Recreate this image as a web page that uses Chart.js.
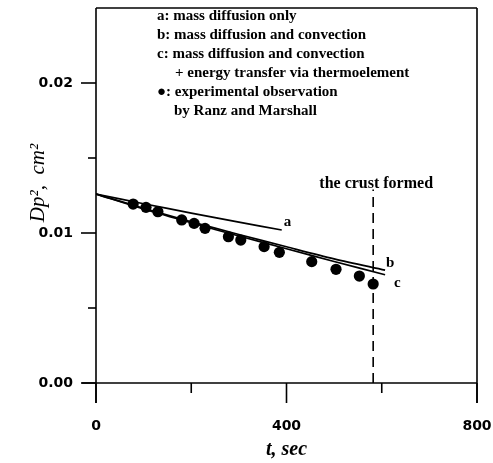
<!DOCTYPE html>
<html><head><meta charset="utf-8">
<script src="https://cdn.jsdelivr.net/npm/chart.js@4/dist/chart.umd.min.js"></script>
<style>html,body{margin:0;padding:0;background:#fff}</style>
</head><body>
<canvas id="c" width="493" height="463"></canvas>
<script>
// ---- data ----
const xTicks = [0, 400, 800];
const xMinorTicks = [200, 600];
const yTicks = [0, 0.01, 0.02];
const yMinorTicks = [0.005, 0.015];

const timeA = [0, 100, 200, 300, 390];
const seriesA = [0.0126, 0.01195, 0.01133, 0.01072, 0.01020];

const timeBC = [0, 100, 200, 300, 400, 500, 607];
const seriesB = [0.0126, 0.01165, 0.01075, 0.00990, 0.00908, 0.00828, 0.00752];
const seriesC = [0.0126, 0.01160, 0.01068, 0.00980, 0.00895, 0.00810, 0.00722];

const obsT = [78, 105, 130, 180, 206, 229, 278, 304, 353, 385, 453, 504, 553, 582];
const obsD = [0.01193, 0.01171, 0.01142, 0.01087, 0.01064, 0.01031, 0.00975, 0.00953, 0.00909, 0.00871, 0.00809, 0.00758, 0.00713, 0.00660];

const crustT = [582, 582];
const crustD = [0, 0.0129];

const legendLines = ["a: mass diffusion only", "b: mass diffusion and convection", "c: mass diffusion and convection", "+ energy transfer via thermoelement", "\u25CF: experimental observation", "by Ranz and Marshall"];
const legendIndent = [0, 0, 0, 18, 0, 17];
const crustLabel = "the crust formed";
const curveLabels = ["a", "b", "c"];
const xTitle = "t, sec";
const yTitle = "Dp\u00B2,  cm\u00B2";

const pts = (xs, ys) => xs.map((x, i) => ({x: x, y: ys[i]}));

const framePlugin = {
  id: 'frame',
  afterDraw(chart) {
    const ctx = chart.ctx, ca = chart.chartArea;
    const xs = chart.scales.x, ys = chart.scales.y;
    ctx.save();
    ctx.strokeStyle = '#000';
    ctx.lineWidth = 1.6;
    const line = (x1, y1, x2, y2) => { ctx.beginPath(); ctx.moveTo(x1, y1); ctx.lineTo(x2, y2); ctx.stroke(); };
    line(ca.left, ca.top, ca.right, ca.top);
    line(ca.left, ca.top, ca.left, ca.bottom + 20);
    line(ca.right, ca.top, ca.right, ca.bottom + 20);
    line(ca.left - 14, ca.bottom, ca.right, ca.bottom);
    yTicks.forEach(v => { const y = ys.getPixelForValue(v); line(ca.left - 15, y, ca.left, y); });
    yMinorTicks.forEach(v => { const y = ys.getPixelForValue(v); line(ca.left - 8, y, ca.left, y); });
    xTicks.forEach(v => { const x = xs.getPixelForValue(v); line(x, ca.bottom, x, ca.bottom + 20); });
    xMinorTicks.forEach(v => { const x = xs.getPixelForValue(v); line(x, ca.bottom, x, ca.bottom + 10); });

    ctx.fillStyle = '#000';
    // y axis title
    ctx.save();
    ctx.translate(38, 183);
    ctx.rotate(-Math.PI / 2);
    ctx.font = 'italic 21px "Liberation Serif", serif';
    ctx.textAlign = 'center';
    ctx.textBaseline = 'middle';
    ctx.fillText(yTitle, 0, 0);
    ctx.restore();

    // legend text
    ctx.font = 'bold 15px "Liberation Serif", serif';
    ctx.textBaseline = 'middle';
    ctx.textAlign = 'left';
    legendLines.forEach((t, i) => ctx.fillText(t, 157 + legendIndent[i], 16 + i * 19));

    // crust label
    ctx.font = 'bold 16px "Liberation Serif", serif';
    ctx.textAlign = 'center';
    ctx.fillText(crustLabel, xs.getPixelForValue(crustT[0]) + 3, ys.getPixelForValue(crustD[1]) - 6);

    // curve labels
    ctx.font = 'bold 15px "Liberation Serif", serif';
    ctx.textAlign = 'left';
    const ea = {x: xs.getPixelForValue(timeA[timeA.length - 1]), y: ys.getPixelForValue(seriesA[seriesA.length - 1])};
    const eb = {x: xs.getPixelForValue(timeBC[timeBC.length - 1]), y: ys.getPixelForValue(seriesB[seriesB.length - 1])};
    const ec = {x: xs.getPixelForValue(timeBC[timeBC.length - 1]), y: ys.getPixelForValue(seriesC[seriesC.length - 1])};
    ctx.fillText(curveLabels[0], ea.x + 2, ea.y - 8);
    ctx.fillText(curveLabels[1], eb.x + 1, eb.y - 7);
    ctx.fillText(curveLabels[2], ec.x + 9, ec.y + 8);
    ctx.restore();
  }
};

const zeroPad = s => { s.paddingTop = 0; s.paddingBottom = 0; s.paddingLeft = 0; s.paddingRight = 0; };

const lineDs = (data) => ({data: data, showLine: true, borderColor: '#000', borderWidth: 1.7, pointRadius: 0, tension: 0.3, fill: false});

new Chart(document.getElementById('c'), {
  type: 'scatter',
  data: {
    datasets: [
      lineDs(pts(timeA, seriesA)),
      lineDs(pts(timeBC, seriesB)),
      lineDs(pts(timeBC, seriesC)),
      {data: pts(obsT, obsD), showLine: false, pointRadius: 5.6, backgroundColor: '#000', borderColor: '#000', borderWidth: 0},
      {data: pts(crustT, crustD), showLine: true, borderColor: '#000', borderWidth: 1.6, borderDash: [10, 6], pointRadius: 0}
    ]
  },
  options: {
    responsive: false,
    animation: false,
    devicePixelRatio: 1,
    layout: {padding: {top: 8, right: 16, left: 0, bottom: 0}},
    plugins: {legend: {display: false}, tooltip: {enabled: false}},
    scales: {
      x: {
        type: 'linear', min: 0, max: 800,
        afterBuildTicks: s => { s.ticks = xTicks.map(v => ({value: v})); },
        afterFit: s => { s.height = 80; zeroPad(s); },
        grid: {display: false, drawTicks: false},
        border: {display: false},
        ticks: {padding: 35, color: '#000', maxRotation: 0, font: {family: '"DejaVu Sans"', size: 14, weight: 'bold'}, callback: v => String(v)},
        title: {display: true, text: xTitle, color: '#000', font: {family: '"Liberation Serif"', size: 20, style: 'italic', weight: 'bold'}, padding: {top: 0, bottom: 1}}
      },
      y: {
        type: 'linear', min: 0, max: 0.025,
        afterBuildTicks: s => { s.ticks = yTicks.map(v => ({value: v})); },
        afterFit: s => { s.width = 96; zeroPad(s); },
        grid: {display: false, drawTicks: false},
        border: {display: false},
        ticks: {padding: 23, color: '#000', font: {family: '"DejaVu Sans"', size: 14, weight: 'bold'}, callback: v => Number(v).toFixed(2)},
        title: {display: false, text: yTitle}
      }
    }
  },
  plugins: [framePlugin]
});
</script>
</body></html>
